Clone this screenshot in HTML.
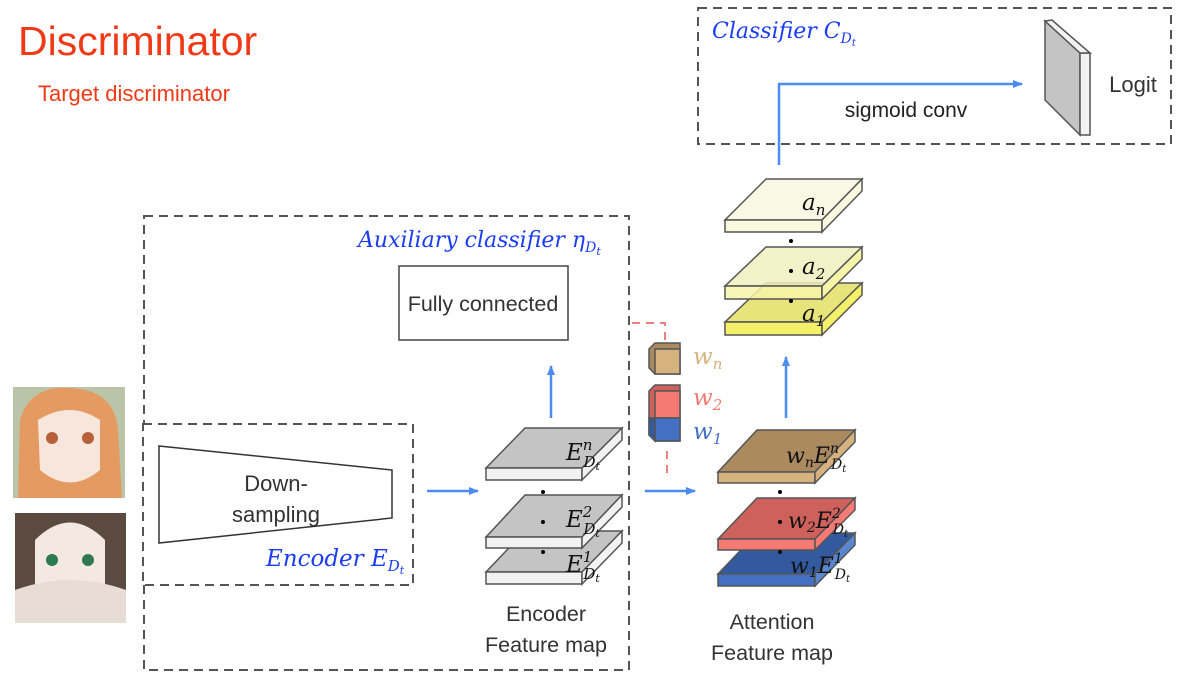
<!DOCTYPE html>
<html><head><meta charset="utf-8"><style>
body{margin:0;background:#fff}
svg{display:block}
.s{font-family:"Liberation Sans",sans-serif}
.m{font-family:"DejaVu Serif","Liberation Serif",serif;font-style:italic}
</style></head><body>
<svg width="1186" height="686" viewBox="0 0 1186 686" xmlns="http://www.w3.org/2000/svg">
<defs><marker id="a" markerWidth="10" markerHeight="8" refX="9" refY="4" orient="auto" markerUnits="userSpaceOnUse"><path d="M0,0 L10,4 L0,8 Z" fill="#4a8cf0"/></marker></defs>
<text x="18" y="55" class="s" font-size="41" fill="#f03a17">Discriminator</text>
<text x="38" y="101" class="s" font-size="22" fill="#f03a17">Target discriminator</text>

<rect x="13" y="387" width="112" height="111" fill="#b9c4a8"/>
<path d="M20,420 Q30,385 70,388 Q115,390 118,430 L122,498 L18,498 Z" fill="#e59a62"/>
<path d="M38,420 Q70,400 100,420 L100,470 Q70,495 40,470 Z" fill="#f7e6dc"/>
<circle cx="52" cy="438" r="6" fill="#b8603a"/><circle cx="88" cy="438" r="6" fill="#b8603a"/>
<rect x="15" y="513" width="111" height="110" fill="#5a4a40"/>
<path d="M35,540 Q70,505 105,540 L105,585 Q70,605 35,585 Z" fill="#f4e8e2"/>
<path d="M15,590 Q70,570 126,590 L126,623 L15,623 Z" fill="#e8dcd6"/>
<circle cx="52" cy="560" r="6" fill="#2d7a50"/><circle cx="88" cy="560" r="6" fill="#2d7a50"/>

<g fill="none" stroke="#555" stroke-width="2" stroke-dasharray="9,6">
<rect x="144" y="216" width="485" height="454"/>
<rect x="143" y="424" width="270" height="161" fill="#fff"/>
<rect x="698" y="8" width="473" height="136"/>
</g>
<polygon points="159,446 392,470 392,518 159,543" fill="#fff" stroke="#333" stroke-width="1.5"/>
<text x="276" y="491" class="s" font-size="22" fill="#333" text-anchor="middle">Down-</text>
<text x="276" y="522" class="s" font-size="22" fill="#333" text-anchor="middle">sampling</text>
<text x="266" y="566" class="m" font-size="23" fill="#1a3cf5">Encoder E<tspan font-size="15" dy="5">D</tspan><tspan font-size="11" dy="3">t</tspan></text>
<text x="358" y="247" class="m" font-size="22" fill="#1a3cf5">Auxiliary classifier η<tspan font-size="14" dy="5">D</tspan><tspan font-size="11" dy="3">t</tspan></text>
<rect x="399" y="266" width="169" height="74" fill="#fff" stroke="#444" stroke-width="1.5"/>
<text x="483" y="311" class="s" font-size="21.5" fill="#333" text-anchor="middle">Fully connected</text>

<g stroke="#4a8cf0" stroke-width="2.5" fill="none" marker-end="url(#a)">
<line x1="427" y1="491" x2="478" y2="491"/>
<line x1="645" y1="491" x2="695" y2="491"/>
<line x1="551" y1="418" x2="551" y2="366"/>
<line x1="786" y1="418" x2="786" y2="357"/>
<polyline points="779,165 779,84 1022,84"/>
</g>
<g stroke="#f08080" stroke-width="2" stroke-dasharray="8,6" fill="none">
<polyline points="632,323 665,323 665,340"/>
<line x1="667" y1="451" x2="667" y2="478"/>
</g>

<g stroke="#555" stroke-width="1.5">
<polygon points="525,531 622,531 582,572 486,572" fill="#c4c4c4"/><polygon points="486,572 582,572 582,584 486,584" fill="#f2f2f2"/><polygon points="582,572 622,531 622,543 582,584" fill="#f2f2f2"/>
<polygon points="525,495 622,495 582,537 486,537" fill="#c4c4c4"/><polygon points="486,537 582,537 582,548 486,548" fill="#f2f2f2"/><polygon points="582,537 622,495 622,507 582,548" fill="#f2f2f2"/>
<polygon points="525,428 622,428 582,468 486,468" fill="#c4c4c4"/><polygon points="486,468 582,468 582,480 486,480" fill="#f2f2f2"/><polygon points="582,468 622,428 622,440 582,480" fill="#f2f2f2"/>
<polygon points="757,533 855,533 815,574 718,574" fill="#335a9e"/><polygon points="718,574 815,574 815,586 718,586" fill="#4470c4"/><polygon points="815,574 855,533 855,545 815,586" fill="#5a86d0"/>
<polygon points="757,498 855,498 815,539 718,539" fill="#cf615c"/><polygon points="718,539 815,539 815,550 718,550" fill="#f67a74"/><polygon points="815,539 855,498 855,510 815,550" fill="#f67a74"/>
<polygon points="757,430 855,430 815,472 718,472" fill="#ab8a60"/><polygon points="718,472 815,472 815,483 718,483" fill="#d6b27e"/><polygon points="815,472 855,430 855,442 815,483" fill="#d6b27e"/>
<polygon points="766,283 862,283 822,322 725,322" fill="#e6e47a"/><polygon points="725,322 822,322 822,335 725,335" fill="#f5f06a"/><polygon points="822,322 862,283 862,295 822,335" fill="#f5f06a"/>
<polygon points="766,247 862,247 822,286 725,286" fill="#f0efbe" fill-opacity="0.85"/><polygon points="725,286 822,286 822,299 725,299" fill="#f7f5a8" fill-opacity="0.85"/><polygon points="822,286 862,247 862,259 822,299" fill="#f7f5a8"/>
<polygon points="766,179 862,179 822,220 725,220" fill="#f8f8e4"/><polygon points="725,220 822,220 822,232 725,232" fill="#fafadf"/><polygon points="822,220 862,179 862,191 822,232" fill="#fafadf"/>
<polygon points="649,349 655,343 680,343 680,374 655,374 649,368" fill="#ab8a60"/><rect x="655" y="349" width="25" height="25" fill="#d6b27e"/>
<polygon points="649,391 655,385 680,385 680,441 655,441 649,435" fill="#cf615c"/><rect x="655" y="391" width="25" height="27" fill="#f67a74"/><rect x="655" y="418" width="25" height="23" fill="#4470c4"/><polygon points="649,418 655,418 655,441 649,435" fill="#335a9e"/>
<polygon points="1045,21 1080,53 1080,135 1045,100" fill="#c4c4c4"/><polygon points="1080,53 1090,53 1090,135 1080,135" fill="#f2f2f2"/><polygon points="1045,21 1052,20 1090,53 1080,53" fill="#f2f2f2"/>
</g>
<g fill="#000"><circle cx="543" cy="492" r="2"/><circle cx="543" cy="522" r="2"/><circle cx="543" cy="552" r="2"/>
<circle cx="780" cy="492" r="2"/><circle cx="780" cy="522" r="2"/><circle cx="780" cy="552" r="2"/>
<circle cx="791" cy="241" r="2"/><circle cx="791" cy="271" r="2"/><circle cx="791" cy="301" r="2"/></g>

<g class="m" font-size="23" fill="#111">
<text x="566" y="460">E<tspan font-size="15" dy="-10">n</tspan><tspan font-size="15" dx="-9" dy="17">D</tspan><tspan font-size="11" dy="3">t</tspan></text>
<text x="566" y="527">E<tspan font-size="15" dy="-10">2</tspan><tspan font-size="15" dx="-9" dy="17">D</tspan><tspan font-size="11" dy="3">t</tspan></text>
<text x="566" y="572">E<tspan font-size="15" dy="-10">1</tspan><tspan font-size="15" dx="-9" dy="17">D</tspan><tspan font-size="11" dy="3">t</tspan></text>
<text x="786" y="463" font-size="22">w<tspan font-size="14" dy="4">n</tspan><tspan dy="-4">E</tspan><tspan font-size="14" dy="-10">n</tspan><tspan font-size="14" dx="-8" dy="16">D</tspan><tspan font-size="10" dy="3">t</tspan></text>
<text x="788" y="528" font-size="22">w<tspan font-size="14" dy="4">2</tspan><tspan dy="-4">E</tspan><tspan font-size="14" dy="-10">2</tspan><tspan font-size="14" dx="-8" dy="16">D</tspan><tspan font-size="10" dy="3">t</tspan></text>
<text x="790" y="573" font-size="22">w<tspan font-size="14" dy="4">1</tspan><tspan dy="-4">E</tspan><tspan font-size="14" dy="-10">1</tspan><tspan font-size="14" dx="-8" dy="16">D</tspan><tspan font-size="10" dy="3">t</tspan></text>
<text x="802" y="210">a<tspan font-size="15" dy="5">n</tspan></text>
<text x="802" y="274">a<tspan font-size="15" dy="5">2</tspan></text>
<text x="802" y="321">a<tspan font-size="15" dy="5">1</tspan></text>
<text x="693" y="364" fill="#d6b27e">w<tspan font-size="15" dy="5">n</tspan></text>
<text x="693" y="405" fill="#f67a74">w<tspan font-size="15" dy="5">2</tspan></text>
<text x="693" y="439" fill="#4470c4">w<tspan font-size="15" dy="5">1</tspan></text>
</g>
<text x="712" y="38" class="m" font-size="22" fill="#1a3cf5">Classifier C<tspan font-size="14" dy="5">D</tspan><tspan font-size="10" dy="3">t</tspan></text>
<text x="906" y="117" class="s" font-size="21" fill="#222" text-anchor="middle">sigmoid conv</text>
<text x="1133" y="92" class="s" font-size="22" fill="#333" text-anchor="middle">Logit</text>
<g class="s" font-size="21.5" fill="#333" text-anchor="middle">
<text x="546" y="621">Encoder</text><text x="546" y="652">Feature map</text>
<text x="772" y="629">Attention</text><text x="772" y="660">Feature map</text>
</g>
</svg>
</body></html>
